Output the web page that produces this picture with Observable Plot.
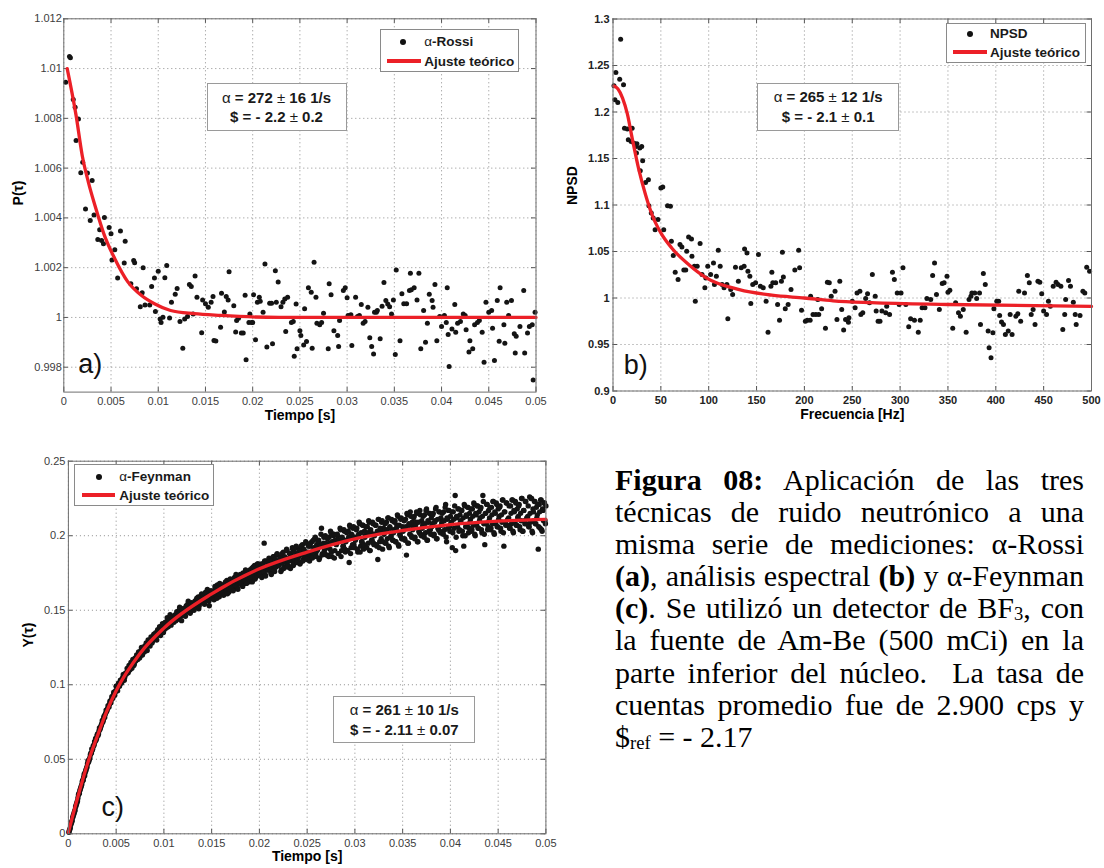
<!DOCTYPE html>
<html><head><meta charset="utf-8">
<script src="https://cdn.jsdelivr.net/npm/d3@7"></script>
<script src="https://cdn.jsdelivr.net/npm/@observablehq/plot@0.6"></script>
<style>
body{margin:0;background:#fff;}
#fig{position:relative;width:1104px;height:868px;overflow:hidden;background:#fff;}
.panel{position:absolute;}
.legend{position:absolute;background:#fff;border:1px solid #8a8a8a;box-sizing:border-box;font:bold 13.5px "Liberation Sans",Arial,sans-serif;color:#1a1a1a;}
.legend .t{position:absolute;white-space:nowrap;line-height:16px;}
.legend .dot{position:absolute;width:6px;height:6px;border-radius:50%;background:#111;}
.legend .ln{position:absolute;height:4px;background:#ec2027;}
.note{position:absolute;background:#fff;border:1.3px solid #9a9a9a;box-sizing:border-box;font:bold 15px "Liberation Sans",Arial,sans-serif;color:#1a1a1a;text-align:center;}
.note div{position:absolute;left:0;right:0;white-space:nowrap;line-height:18px;}
.n{font-weight:normal;}
#caption{position:absolute;left:615px;top:464px;width:469px;font-family:"Liberation Serif","Times New Roman",serif;font-size:30px;line-height:32.1px;color:#000;}
#caption .j{white-space:nowrap;text-align:justify;text-align-last:justify;}
#caption .l{white-space:nowrap;}
#caption sub{font-size:0.62em;vertical-align:-0.12em;line-height:0;}
</style></head>
<body>
<div id="fig"></div>
<script>
// ---------- data ----------
const timeTicks = [0,0.005,0.01,0.015,0.02,0.025,0.03,0.035,0.04,0.045,0.05];
const timeLabels = ["0","0.005","0.01","0.015","0.02","0.025","0.03","0.035","0.04","0.045","0.05"];
const rossiYTicks = [0.998,1,1.002,1.004,1.006,1.008,1.01,1.012];
const rossiYLabels = ["0.998","1","1.002","1.004","1.006","1.008","1.01","1.012"];
const freqTicks = [0,50,100,150,200,250,300,350,400,450,500];
const freqLabels = ["0","50","100","150","200","250","300","350","400","450","500"];
const npsdYTicks = [0.9,0.95,1,1.05,1.1,1.15,1.2,1.25,1.3];
const npsdYLabels = ["0.9","0.95","1","1.05","1.1","1.15","1.2","1.25","1.3"];
const feynYTicks = [0,0.05,0.1,0.15,0.2,0.25];
const feynYLabels = ["0","0.05","0.1","0.15","0.2","0.25"];

// a) alpha-Rossi : [tau (s), P(tau)]
const rossiPoints = [[0.0002,1.00945],[0.0006,1.01049],[0.0007,1.01043],[0.001,1.00876],[0.0012,1.00845],[0.0013,1.00711],[0.00155,1.00797],[0.0018,1.00581],[0.002,1.00624],[0.0023,1.00436],[0.0025,1.0058],[0.0028,1.0039],[0.003,1.0055],[0.0032,1.00412],[0.0036,1.00313],[0.0038,1.00352],[0.004,1.00309],[0.0042,1.00296],[0.0043,1.00402],[0.0048,1.00361],[0.005,1.00336],[0.0051,1.00231],[0.0054,1.00272],[0.0057,1.00158],[0.006,1.00347],[0.0064,1.00219],[0.0065,1.00306],[0.0071,1.00135],[0.0074,1.00229],[0.0075,1.0022],[0.0077,1.00115],[0.0081,1.00043],[0.0083,1.00099],[0.0084,1.002],[0.0086,1.0005],[0.0091,1.0005],[0.0093,1.00124],[0.0096,1.00158],[0.0097,1.00024],[0.01,1.00186],[0.0102,0.99994],[0.0103,0.9998],[0.0105,1.00001],[0.0107,1.00159],[0.0109,1.00209],[0.0112,0.99998],[0.0114,1.00061],[0.0118,1.00093],[0.012,1.00116],[0.0123,0.99984],[0.0126,0.99876],[0.0128,0.99994],[0.0131,1.00004],[0.0133,1.00132],[0.0135,1.00124],[0.0137,1.00014],[0.0139,1.00167],[0.0141,1.00081],[0.0146,0.99938],[0.0147,1.0007],[0.015,1.00055],[0.0153,1.00041],[0.0156,1.00061],[0.0158,1.00084],[0.0159,0.99907],[0.0161,0.99905],[0.0166,0.99961],[0.0167,1.00097],[0.017,1.00022],[0.0172,1.00084],[0.0174,1.0007],[0.0175,1.00184],[0.018,1.00047],[0.0182,0.99941],[0.0183,0.99988],[0.0185,0.99997],[0.0188,0.99937],[0.019,0.99937],[0.0192,1.00089],[0.0193,0.9983],[0.0196,0.9998],[0.0197,1.00014],[0.0199,0.9998],[0.02,0.9998],[0.0201,1.00091],[0.0203,0.9991],[0.0205,1.00061],[0.0207,1.00081],[0.0208,1.00065],[0.0211,1.00021],[0.0213,1.00215],[0.0215,0.99881],[0.0218,1.00057],[0.022,1.00057],[0.0221,0.99894],[0.0224,1.00188],[0.0225,1.00061],[0.0227,1.00142],[0.023,1.00043],[0.0232,1.00061],[0.0234,1.00074],[0.0235,0.99944],[0.0237,1.00081],[0.0241,0.9998],[0.0243,0.99984],[0.0244,0.99844],[0.0246,1.00054],[0.0247,0.99874],[0.025,0.99947],[0.0251,0.99927],[0.0254,0.99889],[0.0255,1.00035],[0.0257,0.99903],[0.0259,1.00119],[0.0262,1.00101],[0.0263,0.99876],[0.0265,1.00222],[0.0267,1.00081],[0.0268,0.99977],[0.0271,0.99971],[0.0273,0.9998],[0.0275,1.00017],[0.028,0.99874],[0.0281,1.00135],[0.0283,1.00091],[0.0286,0.99947],[0.029,0.99927],[0.0291,0.99883],[0.0292,0.99988],[0.0296,1.00108],[0.0298,1.00119],[0.03,1.00079],[0.0301,1.00008],[0.0304,1.00011],[0.0305,0.99887],[0.0309,1.00081],[0.0311,1.00004],[0.0313,1.00008],[0.0315,1.00052],[0.0317,0.99977],[0.0319,0.99984],[0.0322,1.00041],[0.0324,0.99918],[0.0326,0.99883],[0.0328,0.99853],[0.0329,1.00021],[0.0331,1.00021],[0.0332,1.00028],[0.0335,0.99914],[0.0337,1.00045],[0.0339,1.0014],[0.0341,1.00068],[0.0343,1.00054],[0.0345,1.00043],[0.0347,1.00014],[0.0349,1.0007],[0.0351,0.99851],[0.0352,1.00191],[0.0356,0.99906],[0.0358,1.00095],[0.036,1.00055],[0.0363,1.00055],[0.0366,1.00108],[0.0367,1.00178],[0.0368,1.00111],[0.0371,1.00119],[0.0374,1.0007],[0.0376,1.00178],[0.0378,0.99874],[0.0381,1.00028],[0.0383,0.999],[0.0385,0.99977],[0.0387,1.00093],[0.039,1.00068],[0.0391,1.00041],[0.0393,1.00132],[0.0395,0.99906],[0.0398,1.00004],[0.04,0.99964],[0.0403,1.00008],[0.0405,0.9998],[0.0406,1.00119],[0.0407,0.99931],[0.0408,0.99803],[0.0411,0.99954],[0.0414,1.00052],[0.0415,0.9994],[0.0417,0.99977],[0.042,0.99984],[0.0423,1.00014],[0.0425,1.00008],[0.0426,0.99951],[0.0429,0.99861],[0.043,0.99906],[0.0433,0.99874],[0.0435,0.99971],[0.0438,0.9998],[0.044,0.99988],[0.0443,0.9994],[0.0445,0.9982],[0.0447,1.00061],[0.045,1.00021],[0.0453,1.00028],[0.0454,0.99957],[0.0456,0.99827],[0.0459,1.00068],[0.0461,0.99904],[0.0462,1.00119],[0.0466,0.99971],[0.0467,0.99896],[0.0469,1.00061],[0.0471,1.00008],[0.0474,1.00068],[0.0477,0.99934],[0.0478,0.99857],[0.0479,0.99924],[0.0483,0.99964],[0.0487,1.00108],[0.0488,0.99857],[0.0491,0.99937],[0.0493,0.99964],[0.0496,0.99971],[0.0497,0.99749],[0.0499,1.00021]];
const rossiFit = [[0.00036,1.0100],[0.0013,1.00812],[0.00195,1.00651],[0.0026,1.00544],[0.0033,1.0045],[0.0043,1.0033],[0.0054,1.00236],[0.0068,1.00142],[0.0082,1.00089],[0.0096,1.00055],[0.0113,1.00028],[0.0138,1.00015],[0.0166,1.00008],[0.0228,1.0],[0.05,1.0]];

// b) NPSD : [frequency (Hz), NPSD]
const npsdPoints = [[1,1.2281],[2,1.2131],[3,1.2424],[5,1.2102],[7,1.2352],[8,1.2782],[11,1.2292],[12,1.1826],[15,1.1816],[16,1.1701],[19,1.1683],[20,1.1826],[22,1.1665],[24,1.163],[24.5,1.1558],[25,1.1658],[28,1.1612],[28.5,1.1369],[30,1.163],[31,1.1476],[34,1.1243],[37,1.1272],[37.5,1.0993],[40,1.0914],[42,1.086],[44,1.0735],[47,1.0843],[50,1.1182],[52,1.1193],[53,1.0735],[57,1.0993],[60,1.0986],[61,1.061],[63,1.0456],[65,1.0277],[68,1.0199],[70,1.0574],[72,1.0549],[74,1.0302],[76,1.0302],[77,1.0503],[79,1.0657],[82,1.0635],[82.5,1.0449],[85,1.0342],[86,0.9966],[88,1.0342],[91,1.0585],[93,1.0252],[96,1.0109],[97,1.0216],[99,1.0342],[102,1.0252],[105,1.0377],[106,1.0145],[108,1.0234],[110,1.0513],[112,1.0342],[114,1.0145],[116,1.0109],[119,1.0145],[120,0.9776],[123,1.0091],[125,1.0038],[128,1.0331],[131,1.0181],[134,1.0324],[137,1.0342],[137.5,1.0528],[140,1.0485],[141,1.0288],[143,1.0234],[144,0.9941],[146,1.0145],[149,1.0163],[152,1.0467],[154,1.0127],[157,1.0109],[160,0.9966],[162,0.9633],[165,1.0127],[166,1.0277],[167,1.0163],[170,1.0163],[172,0.993],[174,0.9762],[176,1.0181],[177,1.0492],[178,1.0227],[180,0.9884],[183,0.993],[186,1.0091],[190,1.0302],[194,1.0513],[195,1.0324],[197,0.9869],[201,0.9751],[203,0.9762],[206,0.9762],[206.5,1.0019],[209,0.9823],[212,0.9823],[214,0.9984],[215,0.9823],[218,0.9884],[222,0.9676],[224,1.017],[226,1.0163],[228,1.0019],[232,1.0073],[234,0.9769],[237,1.0181],[239,0.9877],[241,0.9655],[243,0.9769],[246,0.974],[246.5,0.9787],[250,0.9966],[253,0.9894],[255,1.0055],[258,1.0073],[259,0.9823],[261,0.9841],[264,0.9995],[266,1.0045],[268,0.9948],[271,1.0252],[274,1.0019],[275,0.9859],[277,0.9751],[279,0.9751],[281,0.9859],[285,0.9841],[286,0.9912],[289,0.9823],[292,1.0277],[294,1.0199],[297,1.0055],[299,0.993],[301,1.0055],[303,1.0324],[306,0.993],[309,0.9691],[311,0.9776],[315,0.9762],[319,0.9633],[321,0.9762],[323,0.9894],[326,0.9894],[328,0.9995],[332,0.9984],[334,1.0241],[336,1.0377],[338,1.0038],[341,0.9877],[344,1.0156],[346,1.0163],[349,1.0234],[350,1.0062],[352,1.0084],[355,0.9676],[358,0.9948],[361,0.9841],[363,0.9805],[366,0.9877],[369,0.9633],[372,0.9984],[374,1.0019],[375,1.0055],[378,1.0055],[380,0.9995],[383,1.0055],[384,0.9716],[387,1.0263],[389,1.0145],[392,0.9644],[393,0.9465],[395,0.9358],[397,0.9626],[398,0.9884],[401,0.9966],[403,0.9966],[404,0.9812],[406,0.9741],[408,0.9716],[410,0.9608],[413,0.9644],[415,0.9823],[417,0.9608],[421,0.9805],[423,0.983],[424,1.0073],[426,0.9751],[430,1.0055],[433,1.0241],[435,1.0163],[437,0.9823],[439,0.9877],[441,0.9716],[444,1.0181],[446,1.017],[448,1.0045],[450,0.9859],[453,0.9823],[455,0.9966],[457,0.9912],[460,1.0127],[463,1.017],[465,1.0145],[468,1.0127],[470,0.9662],[472,0.9823],[473,0.9984],[476,1.0188],[478,1.0127],[481,0.9955],[483,0.9823],[484,0.9716],[488,0.9812],[491,1.0073],[493,1.0055],[495,1.0331],[498,1.0288]];
const npsdFit = [[1,1.228],[5,1.225],[10,1.215],[15,1.198],[20,1.172],[27,1.138],[34,1.111],[41,1.089],[50,1.07],[62,1.053],[79,1.036],[97,1.022],[132,1.009],[166,1.003],[200,1.0],[230,0.997],[270,0.995],[350,0.993],[500,0.991]];

// c) alpha-Feynman : Y(tau) on a tau grid of feynTauStep seconds
// feynY at tau = (i+1)*step, feynYHalf at tau = (i+0.5)*step
const feynTauStep = 0.0001;
const feynY = [
0.002,0.004,0.007,0.009,0.012,0.014,0.016,0.019,0.021,0.024,
0.027,0.029,0.031,0.033,0.036,0.038,0.039,0.042,0.044,0.047,
0.048,0.050,0.053,0.054,0.056,0.059,0.060,0.062,0.063,0.066,
0.066,0.069,0.070,0.072,0.074,0.075,0.078,0.078,0.081,0.082,
0.084,0.085,0.087,0.088,0.090,0.091,0.093,0.094,0.095,0.099,
0.097,0.099,0.100,0.101,0.103,0.102,0.105,0.106,0.105,0.108,
0.108,0.110,0.109,0.112,0.113,0.112,0.115,0.116,0.114,0.118,
0.118,0.117,0.120,0.121,0.119,0.123,0.122,0.124,0.123,0.126,
0.125,0.127,0.126,0.129,0.128,0.130,0.131,0.129,0.133,0.132,
0.132,0.134,0.133,0.136,0.135,0.137,0.136,0.139,0.138,0.140,
0.139,0.141,0.140,0.143,0.141,0.144,0.142,0.146,0.143,0.145,
0.144,0.147,0.145,0.148,0.146,0.150,0.147,0.149,0.151,0.148,
0.150,0.148,0.152,0.150,0.154,0.151,0.153,0.149,0.155,0.152,
0.151,0.154,0.152,0.157,0.155,0.159,0.153,0.157,0.160,0.156,
0.158,0.155,0.160,0.157,0.162,0.159,0.156,0.161,0.163,0.158,
0.160,0.163,0.158,0.165,0.161,0.167,0.162,0.159,0.164,0.166,
0.163,0.166,0.161,0.168,0.164,0.170,0.165,0.162,0.167,0.169,
0.166,0.170,0.164,0.172,0.168,0.173,0.165,0.171,0.169,0.174,
0.170,0.167,0.175,0.172,0.168,0.176,0.171,0.174,0.169,0.177,
0.173,0.178,0.170,0.176,0.180,0.172,0.175,0.181,0.174,0.178,
0.176,0.181,0.173,0.179,0.195,0.174,0.183,0.177,0.180,0.185,
0.179,0.175,0.184,0.178,0.186,0.176,0.182,0.187,0.180,0.183,
0.181,0.186,0.177,0.184,0.189,0.179,0.185,0.182,0.190,0.180,
0.185,0.179,0.188,0.183,0.191,0.181,0.186,0.192,0.184,0.188,
0.186,0.191,0.182,0.189,0.194,0.184,0.190,0.187,0.195,0.185,
0.189,0.184,0.193,0.187,0.196,0.186,0.192,0.198,0.188,0.194,
0.191,0.197,0.185,0.194,0.205,0.188,0.195,0.190,0.200,0.187,
0.193,0.187,0.199,0.191,0.202,0.186,0.196,0.201,0.190,0.197,
0.195,0.200,0.188,0.197,0.204,0.190,0.198,0.193,0.203,0.189,
0.197,0.190,0.203,0.182,0.206,0.192,0.200,0.205,0.194,0.199,
0.198,0.205,0.189,0.201,0.208,0.193,0.196,0.207,0.191,0.203,
0.200,0.192,0.206,0.195,0.209,0.190,0.202,0.197,0.208,0.194,
0.201,0.207,0.193,0.184,0.211,0.196,0.203,0.209,0.191,0.205,
0.203,0.195,0.209,0.198,0.212,0.192,0.205,0.200,0.210,0.197,
0.204,0.210,0.196,0.207,0.213,0.193,0.201,0.211,0.198,0.206,
0.205,0.198,0.211,0.187,0.214,0.195,0.207,0.216,0.200,0.209,
0.206,0.213,0.199,0.209,0.215,0.196,0.203,0.217,0.201,0.210,
0.207,0.200,0.214,0.202,0.218,0.197,0.209,0.215,0.204,0.212,
0.208,0.215,0.201,0.210,0.219,0.198,0.205,0.216,0.203,0.212,
0.209,0.202,0.216,0.204,0.221,0.196,0.211,0.217,0.206,0.213,
0.209,0.192,0.216,0.205,0.227,0.199,0.212,0.218,0.203,0.214,
0.210,0.217,0.200,0.193,0.220,0.206,0.213,0.219,0.202,0.215,
0.211,0.203,0.218,0.207,0.221,0.200,0.214,0.220,0.205,0.216,
0.212,0.219,0.202,0.227,0.208,0.194,0.215,0.221,0.204,0.217,
0.212,0.204,0.219,0.208,0.223,0.201,0.215,0.222,0.206,0.218,
0.213,0.220,0.203,0.209,0.224,0.193,0.216,0.207,0.222,0.211,
0.212,0.205,0.220,0.208,0.224,0.202,0.216,0.223,0.207,0.218,
0.213,0.221,0.204,0.210,0.225,0.203,0.217,0.208,0.223,0.212,
0.213,0.206,0.226,0.209,0.225,0.202,0.216,0.223,0.208,0.219,
0.214,0.191,0.221,0.205,0.224,0.203,0.217,0.222,0.210,0.220];
const feynYHalf = [
0.001,0.003,0.006,0.008,0.011,0.013,0.015,0.018,0.020,0.022,
0.026,0.027,0.030,0.032,0.035,0.036,0.040,0.041,0.043,0.045,
0.049,0.049,0.051,0.054,0.057,0.057,0.059,0.062,0.064,0.064,
0.067,0.067,0.071,0.071,0.073,0.076,0.076,0.079,0.080,0.083,
0.083,0.086,0.085,0.089,0.088,0.092,0.091,0.095,0.093,0.096,
0.099,0.096,0.101,0.099,0.103,0.101,0.104,0.107,0.103,0.107,
0.107,0.111,0.108,0.113,0.110,0.115,0.111,0.117,0.113,0.116,
0.116,0.120,0.117,0.122,0.118,0.121,0.125,0.120,0.124,0.122,
0.124,0.128,0.123,0.130,0.127,0.126,0.132,0.128,0.131,0.134,
0.131,0.135,0.130,0.137,0.134,0.139,0.133,0.137,0.141,0.135,
0.137,0.142,0.138,0.145,0.139,0.143,0.147,0.140,0.144,0.142,
0.142,0.146,0.143,0.149,0.144,0.148,0.152,0.146,0.143,0.150,
0.147,0.151,0.146,0.153,0.149,0.156,0.150,0.148,0.154,0.151,
0.153,0.150,0.156,0.152,0.158,0.154,0.151,0.158,0.155,0.161,
0.156,0.160,0.154,0.162,0.158,0.164,0.157,0.153,0.160,0.163,
0.159,0.162,0.157,0.166,0.160,0.158,0.165,0.161,0.168,0.163,
0.162,0.167,0.160,0.165,0.169,0.163,0.161,0.168,0.164,0.171,
0.165,0.169,0.163,0.171,0.167,0.174,0.166,0.164,0.172,0.168,
0.169,0.173,0.166,0.174,0.170,0.177,0.168,0.172,0.175,0.171,
0.172,0.176,0.169,0.179,0.174,0.171,0.178,0.173,0.181,0.175,
0.174,0.179,0.172,0.181,0.176,0.183,0.173,0.178,0.182,0.177,
0.178,0.183,0.174,0.181,0.186,0.177,0.184,0.179,0.188,0.181,
0.180,0.185,0.176,0.188,0.182,0.178,0.186,0.183,0.191,0.179,
0.183,0.188,0.178,0.186,0.192,0.180,0.189,0.184,0.193,0.182,
0.185,0.190,0.181,0.193,0.187,0.183,0.191,0.186,0.196,0.184,
0.188,0.193,0.183,0.195,0.189,0.185,0.197,0.190,0.199,0.186,
0.190,0.196,0.184,0.193,0.201,0.187,0.194,0.199,0.188,0.195,
0.192,0.198,0.186,0.195,0.203,0.189,0.196,0.200,0.185,0.197,
0.194,0.201,0.188,0.197,0.205,0.186,0.199,0.193,0.204,0.191,
0.196,0.202,0.190,0.199,0.207,0.188,0.201,0.194,0.206,0.192,
0.197,0.204,0.191,0.200,0.209,0.189,0.202,0.196,0.207,0.194,
0.199,0.206,0.192,0.202,0.210,0.190,0.204,0.197,0.209,0.195,
0.200,0.207,0.194,0.203,0.211,0.192,0.205,0.198,0.210,0.196,
0.201,0.208,0.195,0.204,0.212,0.193,0.206,0.199,0.211,0.197,
0.202,0.209,0.196,0.205,0.214,0.194,0.207,0.200,0.212,0.198,
0.203,0.210,0.197,0.206,0.215,0.195,0.208,0.201,0.213,0.199,
0.204,0.212,0.198,0.207,0.216,0.196,0.209,0.202,0.214,0.200,
0.205,0.213,0.199,0.208,0.217,0.197,0.210,0.203,0.215,0.201,
0.206,0.214,0.200,0.209,0.218,0.198,0.211,0.204,0.216,0.202,
0.207,0.215,0.201,0.210,0.219,0.199,0.212,0.205,0.217,0.203,
0.208,0.216,0.202,0.211,0.220,0.190,0.213,0.206,0.218,0.204,
0.209,0.217,0.203,0.212,0.221,0.200,0.214,0.207,0.219,0.205,
0.209,0.218,0.204,0.213,0.222,0.201,0.215,0.207,0.220,0.205,
0.210,0.218,0.204,0.213,0.223,0.201,0.215,0.208,0.221,0.206,
0.210,0.219,0.205,0.214,0.223,0.202,0.216,0.208,0.221,0.206,
0.211,0.219,0.205,0.214,0.224,0.202,0.216,0.209,0.222,0.207,
0.211,0.220,0.205,0.215,0.224,0.203,0.217,0.209,0.222,0.207,
0.212,0.220,0.206,0.215,0.225,0.203,0.217,0.210,0.223,0.208,
0.212,0.220,0.206,0.215,0.225,0.203,0.218,0.210,0.223,0.208,
0.212,0.221,0.206,0.216,0.224,0.204,0.218,0.210,0.222,0.208];
const feynPoints = feynY.map((y, i) => [(i + 1) * feynTauStep, y])
  .concat(feynYHalf.map((y, i) => [(i + 0.5) * feynTauStep, y]));
const feynFit = [[0,0.001],[0.001,0.025],[0.002,0.047],[0.003,0.065],[0.004,0.082],[0.005,0.096],[0.0075,0.121],[0.01,0.138],[0.015,0.161],[0.02,0.1778],[0.025,0.189],[0.03,0.1979],[0.035,0.2035],[0.04,0.2075],[0.045,0.2098],[0.05,0.211]];

// ---------- drawing ----------
const fig = document.getElementById("fig");
function panel(c) {
  const innerW = c.width - c.ml - c.mr, innerH = c.height - c.mt - c.mb;
  const xMap = new Map(c.xTicks.map((t, i) => [t, c.xLabels[i]]));
  const yMap = new Map(c.yTicks.map((t, i) => [t, c.yLabels[i]]));
  const gridStyle = {stroke: "#8c8c8c", strokeOpacity: 1, strokeWidth: 1, strokeDasharray: "1,3"};
  const tickC = "#555";
  const svg = Plot.plot({
    width: c.width, height: c.height,
    marginLeft: c.ml, marginRight: c.mr, marginTop: c.mt, marginBottom: c.mb,
    x: {domain: c.xDomain}, y: {domain: c.yDomain},
    style: {fontFamily: '"Liberation Sans", Arial, sans-serif', fontSize: "11px", background: "transparent", overflow: "visible"},
    marks: [
      Plot.gridX({ticks: c.xTicks, ...gridStyle}),
      Plot.gridY({ticks: c.yTicks, ...gridStyle}),
      Plot.ruleX(c.xTicks, {x: d => d, insetTop: innerH - 4.5, stroke: tickC}),
      Plot.ruleX(c.xTicks, {x: d => d, insetBottom: innerH - 4.5, stroke: tickC}),
      Plot.ruleY(c.yTicks, {y: d => d, insetRight: innerW - 4.5, stroke: tickC}),
      Plot.ruleY(c.yTicks, {y: d => d, insetLeft: innerW - 4.5, stroke: tickC}),
      Plot.dot(c.points, {x: d => d[0], y: d => d[1], r: c.r, fill: "#141414", stroke: null}),
      Plot.line(c.fit, {x: d => d[0], y: d => d[1], stroke: "#ec2027", strokeWidth: 3.3, curve: "monotone-x"}),
      Plot.frame({stroke: "#6e6e6e"}),
      Plot.axisX({ticks: c.xTicks, tickSize: 0, tickPadding: 5.5, tickFormat: d => xMap.get(d), label: null, fill: c.tickFill, fontWeight: c.tickWeight}),
      Plot.axisY({ticks: c.yTicks, tickSize: 0, tickPadding: c.yPad, tickFormat: d => yMap.get(d), label: null, fill: c.tickFill, fontWeight: c.tickWeight}),
      Plot.text([c.xTitle], {frameAnchor: "bottom", dy: 27.5, fontSize: 14, fontWeight: "bold", fill: "#000"}),
      Plot.text([c.yTitle], {frameAnchor: "left", dx: -c.yTitleOff, rotate: -90, fontSize: 14, fontWeight: "bold", fill: "#000"}),
      Plot.text([c.tag], {frameAnchor: "bottom-left", dx: c.tagDx, dy: -c.tagDy, fontSize: 27, textAnchor: "start", lineAnchor: "bottom", fill: "#111"})
    ]
  });
  svg.classList.add("panel");
  svg.style.left = c.left + "px";
  svg.style.top = c.top + "px";
  fig.appendChild(svg);
}

panel({left: 0, top: 0, width: 560, height: 430, ml: 63.3, mr: 24.5, mt: 18.3, mb: 38.4,
  xDomain: [0, 0.05], yDomain: [0.997, 1.012], xTicks: timeTicks, xLabels: timeLabels,
  yTicks: rossiYTicks, yLabels: rossiYLabels, points: rossiPoints, fit: rossiFit, r: 2.5,
  tickFill: "#3c3c3c", tickWeight: "normal", yPad: 2,
  xTitle: "Tiempo [s]", yTitle: "P(τ)", yTitleOff: 45.4, tag: "a)", tagDx: 14.4, tagDy: 19.6});

panel({left: 560, top: 0, width: 544, height: 430, ml: 52.5, mr: 13, mt: 18.5, mb: 39.5,
  xDomain: [0, 500], yDomain: [0.9, 1.3], xTicks: freqTicks, xLabels: freqLabels,
  yTicks: npsdYTicks, yLabels: npsdYLabels, points: npsdPoints, fit: npsdFit, r: 2.5,
  tickFill: "#222", tickWeight: "bold", yPad: 3.5,
  xTitle: "Frecuencia [Hz]", yTitle: "NPSD", yTitleOff: 40.3, tag: "b)", tagDx: 10.8, tagDy: 17.5});

panel({left: 0, top: 430, width: 560, height: 438, ml: 67.9, mr: 14.6, mt: 30.7, mb: 34.7,
  xDomain: [0, 0.05], yDomain: [0, 0.25], xTicks: timeTicks, xLabels: timeLabels,
  yTicks: feynYTicks, yLabels: feynYLabels, points: feynPoints, fit: feynFit, r: 2.7,
  tickFill: "#3c3c3c", tickWeight: "normal", yPad: 3,
  xTitle: "Tiempo [s]", yTitle: "Y(τ)", yTitleOff: 40, tag: "c)", tagDx: 33, tagDy: 18});

// legends
function legend(l) {
  const d = document.createElement("div");
  d.className = "legend";
  Object.assign(d.style, {left: l.left + "px", top: l.top + "px", width: l.w + "px", height: l.h + "px"});
  d.innerHTML =
    `<span class="dot" style="left:${l.dotX - 4}px;top:${l.r1 - 4}px"></span>` +
    `<span class="ln" style="left:${l.ln0 - 1}px;width:${l.ln1 - l.ln0}px;top:${l.r2 - 3}px"></span>` +
    `<span class="t" style="left:${l.tx - 1}px;top:${l.r1 - 9}px">${l.label}</span>` +
    `<span class="t" style="left:${l.tx - 1}px;top:${l.r2 - 8}px">Ajuste teórico</span>`;
  fig.appendChild(d);
}
legend({left: 380, top: 29.3, w: 138.5, h: 42.5, dotX: 23.3, r1: 12.8, ln0: 7.3, ln1: 40.7, r2: 31.5, tx: 44.3, label: '<span class="n">α</span>-Rossi'});
legend({left: 945.7, top: 22.7, w: 140, h: 40.6, dotX: 24.3, r1: 11.5, ln0: 7, ln1: 41.6, r2: 29.5, tx: 44.3, label: 'NPSD'});
legend({left: 74, top: 464.3, w: 140, h: 41.7, dotX: 25.3, r1: 12.6, ln0: 7.7, ln1: 41, r2: 31, tx: 45.3, label: '<span class="n">α</span>-Feynman'});

// fit-result boxes
function note(n) {
  const d = document.createElement("div");
  d.className = "note";
  Object.assign(d.style, {left: n.left + "px", top: n.top + "px", width: n.w + "px", height: n.h + "px"});
  d.innerHTML =
    `<div style="top:${n.r1 - 10}px"><span class="n">α</span> = ${n.a} <span class="n">±</span> ${n.da} 1/s</div>` +
    `<div style="top:${n.r2 - 10}px">$ = - ${n.s} <span class="n">±</span> ${n.ds}</div>`;
  fig.appendChild(d);
}
note({left: 206.5, top: 82.5, w: 140, h: 48.3, r1: 15.2, r2: 34.2, a: "272", da: "16", s: "2.2", ds: "0.2"});
note({left: 757.2, top: 82.7, w: 142, h: 48, r1: 14.6, r2: 34.3, a: "265", da: "12", s: "2.1", ds: "0.1"});
note({left: 333.2, top: 696, w: 142.2, h: 47.3, r1: 14, r2: 34, a: "261", da: "10", s: "2.11", ds: "0.07"});

// caption
const cap = document.createElement("div");
cap.id = "caption";
cap.innerHTML = [
  '<div class="j"><b>Figura 08:</b> Aplicación de las tres</div>',
  '<div class="j">técnicas de ruido neutrónico a una</div>',
  '<div class="j">misma serie de mediciones: α-Rossi</div>',
  '<div class="j"><b>(a)</b>, análisis espectral <b>(b)</b> y α-Feynman</div>',
  '<div class="j"><b>(c)</b>. Se utilizó un detector de BF<sub>3</sub>, con</div>',
  '<div class="j">la fuente de Am-Be (500 mCi) en la</div>',
  '<div class="j">parte inferior del núcleo.&nbsp; La tasa de</div>',
  '<div class="j">cuentas promedio fue de 2.900 cps y</div>',
  '<div class="l">$<sub>ref</sub> = - 2.17</div>'
].join("");
fig.appendChild(cap);
</script>
</body></html>
